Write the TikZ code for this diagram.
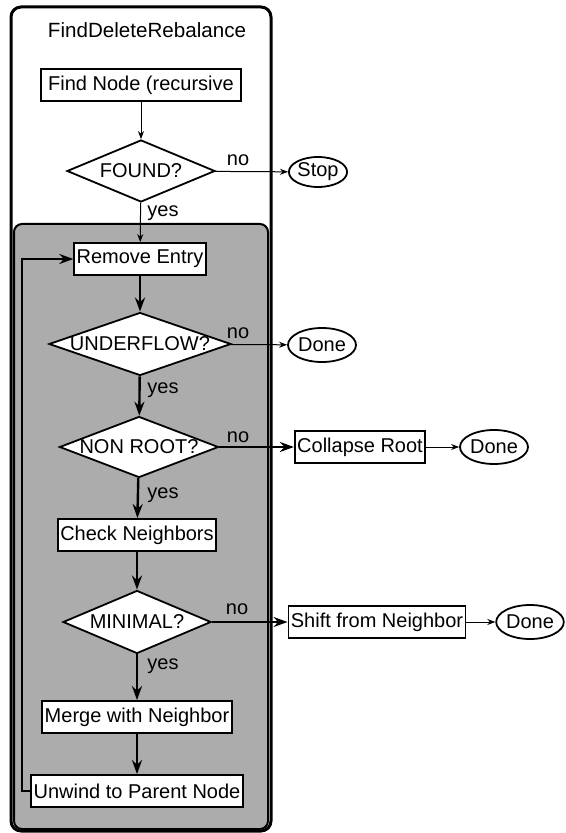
\documentclass[tikz,border=0pt]{standalone}
\usepackage{fontspec}
\setmainfont{Liberation Sans}
\usetikzlibrary{shapes.geometric,arrows.meta}

\begin{document}
\begin{tikzpicture}[x=0.5pt,y=-0.5pt,
  box/.style={rectangle,draw,fill=white,line width=0.9pt,inner xsep=1.2pt,inner ysep=0pt,minimum height=16pt},
  decision/.style={diamond,draw,fill=white,line width=0.9pt,inner sep=0pt},
  stopper/.style={ellipse,draw,fill=white,line width=0.9pt,inner sep=0pt,minimum height=17pt},
  thin arrow/.style={line width=0.5pt,-{Stealth[length=4pt,width=3pt]}},
  thick arrow/.style={line width=1.2pt,-{Stealth[length=7pt,width=5pt]}},
  lbl/.style={inner sep=0pt}]
\useasboundingbox (0,0) rectangle (566,833);

% frame and shaded part
\draw[line width=1.5pt,rounded corners=5pt] (11,7) rectangle (271,831);
\draw[fill=gray!65,line width=1pt,rounded corners=4pt] (14,224) rectangle (268,829);
\node[font=\fontsize{10.3}{12}\selectfont] (title) at (147,30) {FindDeleteRebalance};

\node[box,minimum width=100pt] (find) at (141,85) {Find Node (recursive};
\node[decision,minimum width=74pt,minimum height=31pt] (found) at (141,171) {\makebox[0pt]{FOUND?}};
\node[stopper,minimum width=28pt,minimum height=15pt] (stop) at (318,172) {Stop};

\node[box] (remove) at (140,259) {Remove Entry};
\node[decision,minimum width=91pt,minimum height=31.5pt] (uflow) at (140,344) {\makebox[0pt]{UNDERFLOW?}};
\node[stopper,minimum width=34pt] (done1) at (322,345) {Done};

\node[decision,minimum width=79.5pt,minimum height=30.5pt] (nonroot) at (139,447) {\makebox[0pt]{NON ROOT?}};
\node[box] (collapse) at (360,447) {Collapse Root};
\node[stopper,minimum width=34pt] (done2) at (494,447) {Done};

\node[box] (check) at (137,535) {Check Neighbors};
\node[decision,minimum width=74pt,minimum height=31.5pt] (minimal) at (137,622) {\makebox[0pt]{MINIMAL?}};
\node[box] (shift) at (377,622) {Shift from Neighbor};
\node[stopper,minimum width=33.5pt] (done3) at (530,622) {Done};

\node[box] (merge) at (137,717) {Merge with Neighbor};
\node[box] (unwind) at (137,791) {Unwind to Parent Node};

% yes / no
\node[lbl] (no1) at (238,160) {no};
\node[lbl] (no2) at (238,333) {no};
\node[lbl] (no3) at (238,437) {no};
\node[lbl] (no4) at (237,609) {no};
\node[lbl] (yes1) at (163,213) {yes};
\node[lbl] (yes2) at (163,390) {yes};
\node[lbl] (yes3) at (163,495) {yes};
\node[lbl] (yes4) at (163,666) {yes};

\draw[thin arrow] (find) -- (found);
\draw[thin arrow] (found) -- (stop);
\draw[thin arrow] (found) -- (remove);
\draw[thick arrow] (remove) -- (uflow);
\draw[thin arrow] (uflow) -- (done1);
\draw[thick arrow] (uflow) -- (nonroot);
\draw[thick arrow] (nonroot) -- (collapse);
\draw[thin arrow] (collapse) -- (done2);
\draw[thick arrow] (nonroot) -- (check);
\draw[thick arrow] (check) -- (minimal);
\draw[thick arrow] (minimal) -- (shift);
\draw[thin arrow] (shift) -- (done3);
\draw[thick arrow] (minimal) -- (merge);
\draw[thick arrow] (merge) -- (unwind);

% back to the top of the loop
\coordinate (back) at (22,791);
\draw[thick arrow] (unwind.west) -- (back) |- (remove.west);
\end{tikzpicture}
\end{document}
